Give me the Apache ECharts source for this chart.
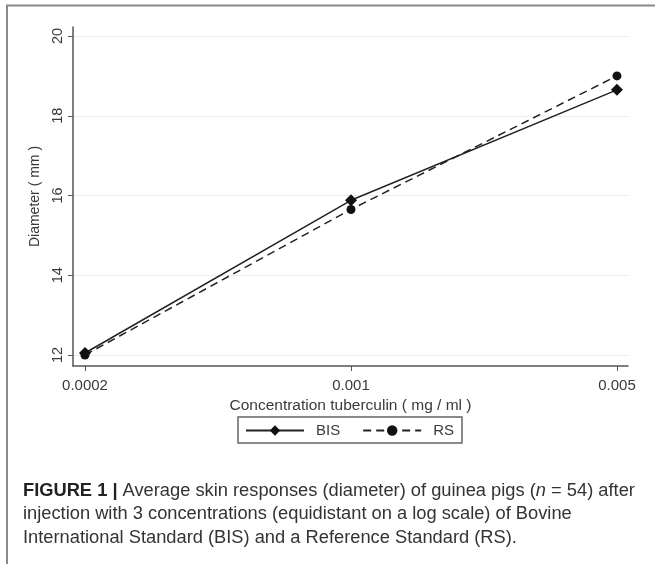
<!DOCTYPE html>
<html>
<head>
<meta charset="utf-8">
<script src="https://cdn.jsdelivr.net/npm/echarts@6/dist/echarts.min.js"></script>
<style>
  html, body { margin: 0; padding: 0; background: #fff; }
  #chart { width: 655px; height: 564px; }
</style>
</head>
<body>
<div id="chart"></div>
<script>
// Tuberculin concentrations (mg/ml) and their tick labels
const concentrations = [0.0002, 0.001, 0.005];
const tickLabels = ['0.0002', '0.001', '0.005'];

// Average skin-response diameters (mm)
const bisValues = [12.05, 15.88, 18.65];
const rsValues = [12.0, 15.65, 19.0];

// Diameter axis ticks
const yTicks = [12, 14, 16, 18, 20];

// Concentrations are equidistant on a log scale, so plot log10(concentration)
const logX = concentrations.map(c => Math.log10(c));
const toPairs = vals => vals.map((v, i) => [logX[i], v]);

const chart = echarts.init(document.getElementById('chart'), null, { renderer: 'canvas' });

const FONT = 'Liberation Sans, Arial, sans-serif';
const axisText = { color: '#3a3a3a', fontFamily: FONT, fontSize: 15 };

chart.setOption({
  animation: false,
  backgroundColor: '#fff',
  grid: { left: 73, right: 27, top: 27, bottom: 198 },
  xAxis: {
    type: 'value',
    min: logX[0] - 0.0315,
    max: logX[2] + 0.029,
    name: 'Concentration tuberculin ( mg / ml )',
    nameLocation: 'middle',
    nameGap: 30,
    nameTextStyle: { color: '#3a3a3a', fontFamily: FONT, fontSize: 15.5 },
    axisLine: { show: true, lineStyle: { color: '#555', width: 1.5 } },
    axisTick: { show: true, customValues: logX, length: 5, lineStyle: { color: '#555', width: 1 } },
    axisLabel: {
      customValues: logX,
      margin: 12,
      ...axisText,
      formatter: v => {
        let best = 0;
        logX.forEach((lx, i) => { if (Math.abs(lx - v) < Math.abs(logX[best] - v)) best = i; });
        return tickLabels[best];
      }
    },
    splitLine: { show: false }
  },
  yAxis: {
    type: 'value',
    min: 11.724,
    max: 20.226,
    name: 'Diameter ( mm )',
    nameLocation: 'middle',
    nameGap: 24,
    nameTextStyle: { color: '#3a3a3a', fontFamily: FONT, fontSize: 14 },
    axisLine: { show: true, lineStyle: { color: '#555', width: 1.5 } },
    axisTick: { show: true, customValues: yTicks, length: 5, lineStyle: { color: '#555', width: 1 } },
    axisLabel: { customValues: yTicks, rotate: 90, margin: 8, ...axisText, fontSize: 14.5 },
    splitLine: { show: true, lineStyle: { color: '#ececec', width: 1.2 } }
  },
  legend: {
    left: 238,
    top: 417,
    orient: 'horizontal',
    padding: [6, 8, 5, 7],
    itemGap: 22,
    itemWidth: 58,
    itemHeight: 13,
    borderColor: '#666',
    borderWidth: 1.5,
    textStyle: { color: '#3a3a3a', fontFamily: FONT, fontSize: 15, padding: [0, 0, 0, 7] },
    data: ['BIS', 'RS']
  },
  title: {
    left: 18,
    top: 474,
    text: '{b|FIGURE 1 |} Average skin responses (diameter) of guinea pigs ({i|n} = 54) after\n' +
          'injection with 3 concentrations (equidistant on a log scale) of Bovine\n' +
          'International Standard (BIS) and a Reference Standard (RS).',
    textStyle: {
      color: '#333',
      fontFamily: FONT,
      fontSize: 18.3,
      fontWeight: 'normal',
      lineHeight: 23.5,
      rich: {
        b: { fontWeight: 'bold', fontSize: 18.3, color: '#222', fontFamily: FONT, lineHeight: 23.5 },
        i: { fontStyle: 'italic', fontSize: 18.3, color: '#333', fontFamily: FONT, lineHeight: 23.5 }
      }
    }
  },
  graphic: [
    {
      type: 'polyline',
      shape: { points: [[7, 564], [7, 5.5], [655, 5.5]] },
      style: { stroke: '#8a8a8a', lineWidth: 2, fill: null },
      silent: true
    }
  ],
  series: [
    {
      name: 'BIS',
      type: 'line',
      data: toPairs(bisValues),
      symbol: 'diamond',
      symbolSize: 12,
      itemStyle: { color: '#111' },
      lineStyle: { color: '#222', width: 1.5, type: 'solid' },
      z: 3
    },
    {
      name: 'RS',
      type: 'line',
      data: toPairs(rsValues),
      symbol: 'circle',
      symbolSize: 9,
      itemStyle: { color: '#111' },
      lineStyle: { color: '#222', width: 1.5, type: [8, 5] },
      z: 2
    }
  ]
});
</script>
</body>
</html>
